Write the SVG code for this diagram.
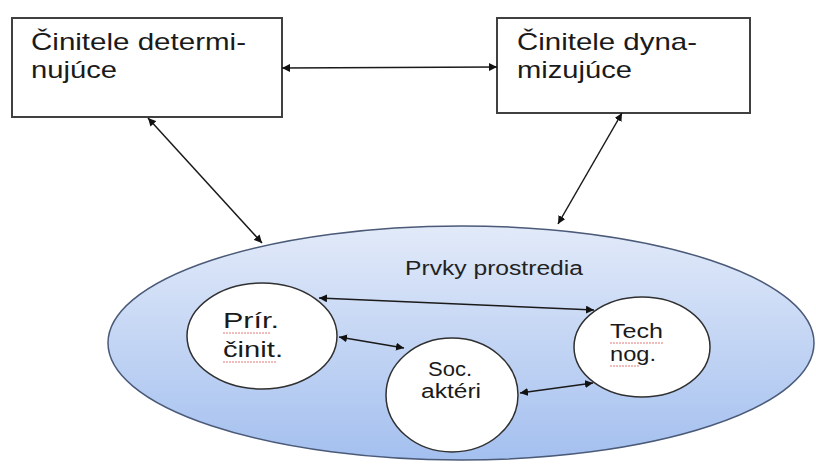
<svg xmlns="http://www.w3.org/2000/svg" width="816" height="466" viewBox="0 0 816 466">
<style>
.box{fill:#fff;stroke:#404040;stroke-width:2}
.bt{font-family:"Liberation Sans",Arial,sans-serif;font-size:24px;fill:#1a1a1a}
.pt{font-family:"Liberation Sans",Arial,sans-serif;font-size:22px;fill:#1a1a1a}
.ct{font-family:"Liberation Sans",Arial,sans-serif;font-size:20px;fill:#1a1a1a}
.circ{fill:#fff;stroke:#303030;stroke-width:1.5}
.con{stroke:#1a1a1a;stroke-width:1.5;fill:none;marker-start:url(#ah);marker-end:url(#ah)}
.sp{stroke:#e07878;stroke-width:1;fill:none;stroke-dasharray:2 1}
</style>
<defs>
<marker id="ah" viewBox="0 0 10 10" refX="10" refY="5" markerWidth="8" markerHeight="8" orient="auto-start-reverse" markerUnits="userSpaceOnUse">
<path d="M0,0 L10,5 L0,10 z" fill="#111"/>
</marker>
<linearGradient id="bg" x1="0" y1="0" x2="0" y2="1">
<stop offset="0" stop-color="#e2eaf9"/>
<stop offset="1" stop-color="#a4c0ef"/>
</linearGradient>
</defs>
<rect width="816" height="466" fill="#fff"/>
<g id="box1">
<rect class="box" x="12" y="18" width="270" height="99"/>
<text class="bt" x="31" y="50" textLength="215" lengthAdjust="spacingAndGlyphs">Činitele determi-</text>
<text class="bt" x="31" y="78" textLength="86" lengthAdjust="spacingAndGlyphs">nujúce</text>
</g>
<g id="box2">
<rect class="box" x="497" y="18" width="253" height="95"/>
<text class="bt" x="517" y="50" textLength="180" lengthAdjust="spacingAndGlyphs">Činitele dyna-</text>
<text class="bt" x="517" y="78" textLength="115" lengthAdjust="spacingAndGlyphs">mizujúce</text>
</g>
<g id="prostredie">
<ellipse cx="461" cy="343" rx="353" ry="117" fill="url(#bg)" stroke="#4a5a78" stroke-width="1.5"/>
<text x="405" y="275" font-family="Liberation Sans,Arial,sans-serif" font-size="20" fill="#222" textLength="178" lengthAdjust="spacingAndGlyphs">Prvky prostredia</text>
</g>
<g id="prir">
<ellipse class="circ" cx="262" cy="336" rx="75" ry="53"/>
<text class="pt" x="223" y="328" textLength="56" lengthAdjust="spacingAndGlyphs">Prír.</text>
<text class="pt" x="223" y="357" textLength="60" lengthAdjust="spacingAndGlyphs">činit.</text>
<path class="sp" d="M223,333 L270,333 M223,362 L276,362"/>
</g>
<g id="soc">
<ellipse class="circ" cx="452" cy="395" rx="66" ry="57"/>
<text class="ct" x="428" y="376" textLength="44" lengthAdjust="spacingAndGlyphs">Soc.</text>
<text class="ct" x="421" y="398" textLength="60" lengthAdjust="spacingAndGlyphs">aktéri</text>
</g>
<g id="tech">
<ellipse class="circ" cx="642" cy="347" rx="68" ry="50"/>
<text class="ct" x="610" y="338" textLength="53" lengthAdjust="spacingAndGlyphs">Tech</text>
<text class="ct" x="610" y="361" textLength="46" lengthAdjust="spacingAndGlyphs">nog.</text>
<path class="sp" d="M610,343 L663,343 M610,366 L640,366"/>
</g>
<g id="connectors">
<line class="con" x1="282" y1="68" x2="497" y2="67"/>
<line class="con" x1="148" y1="118" x2="262" y2="243"/>
<line class="con" x1="622" y1="113" x2="558" y2="224"/>
<line class="con" x1="319" y1="298" x2="594" y2="310"/>
<line class="con" x1="339" y1="337" x2="404" y2="348"/>
<line class="con" x1="520" y1="393" x2="593" y2="383"/>
</g>
</svg>
